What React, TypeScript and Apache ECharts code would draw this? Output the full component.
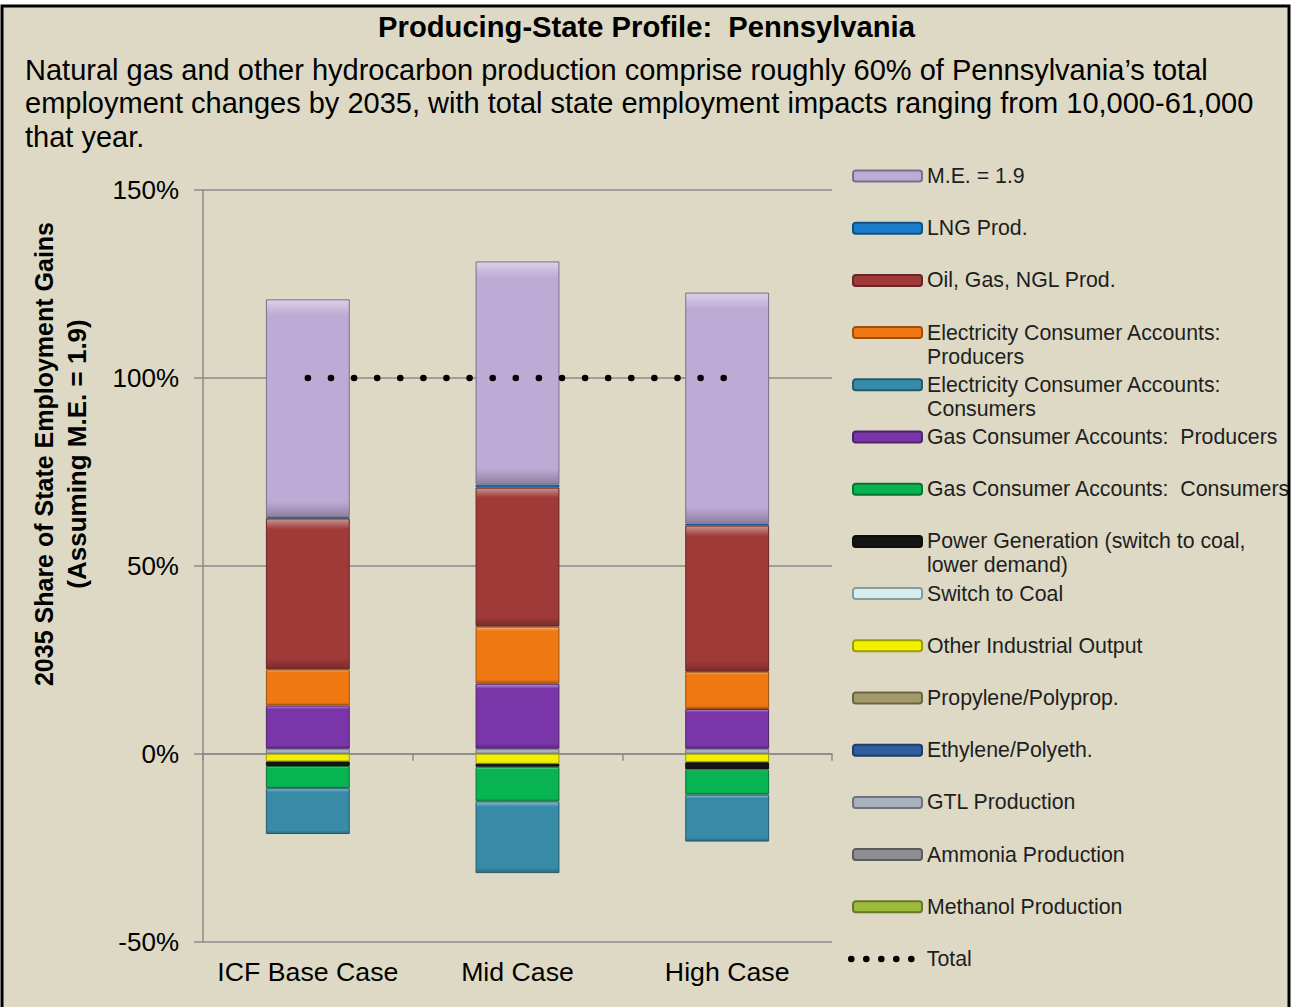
import React, { useEffect, useRef } from 'react';
import * as echarts from 'echarts';

// ---------- data ----------
const categories = ['ICF Base Case', 'Mid Case', 'High Case'];
const methanolProduction = [0, 0, 0];
const ammoniaProduction = [0, 0, 0];
const gtlProduction = [1.3, 1.3, 1.3];
const ethylenePolyeth = [0, 0, 0];
const propylenePolyprop = [0, 0, 0];
const otherIndustrialOutput = [-2.1, -2.7, -2.3];
const switchToCoal = [0, 0, 0];
const powerGeneration = [-1.2, -0.8, -1.9];
const gasAccountsConsumers = [-5.9, -9.2, -6.7];
const gasAccountsProducers = [11.5, 17.3, 10.6];
const elecAccountsConsumers = [-12.2, -19.1, -12.5];
const elecAccountsProducers = [9.6, 15.2, 9.9];
const oilGasNglProd = [40.2, 37.0, 38.9];
const lngProd = [0.3, 0.8, 0.5];
const multiplierEffect = [58.0, 59.4, 61.5];
const total = [100, 100, 100];

const yMin = -50;
const yMax = 150;
const yInterval = 50;

const titleText = 'Producing-State Profile:  Pennsylvania';
const subtitleLines = [
  'Natural gas and other hydrocarbon production comprise roughly 60% of Pennsylvania\u2019s total',
  'employment changes by 2035, with total state employment impacts ranging from 10,000-61,000',
  'that year.',
];
const yTitleLines = ['2035 Share of State Employment Gains', '(Assuming M.E. = 1.9)'];

// stacked series, bottom (first) to top (last)
const stackSeries = [
  { name: 'Methanol Production', label: 'Methanol Production', data: methanolProduction, color: '#9BBB3B' },
  { name: 'Ammonia Production', label: 'Ammonia Production', data: ammoniaProduction, color: '#8E8E92' },
  { name: 'GTL Production', label: 'GTL Production', data: gtlProduction, color: '#A9B1BC' },
  { name: 'Ethylene/Polyeth.', label: 'Ethylene/Polyeth.', data: ethylenePolyeth, color: '#2F5E9C' },
  { name: 'Propylene/Polyprop.', label: 'Propylene/Polyprop.', data: propylenePolyprop, color: '#A39A6A' },
  { name: 'Other Industrial Output', label: 'Other Industrial Output', data: otherIndustrialOutput, color: '#F2F000' },
  { name: 'Switch to Coal', label: 'Switch to Coal', data: switchToCoal, color: '#D5EEF0' },
  { name: 'Power Generation (switch to coal, lower demand)', label: 'Power Generation (switch to coal,\nlower demand)', data: powerGeneration, color: '#151515' },
  { name: 'Gas Consumer Accounts:  Consumers', label: 'Gas Consumer Accounts:  Consumers', data: gasAccountsConsumers, color: '#08B351' },
  { name: 'Gas Consumer Accounts:  Producers', label: 'Gas Consumer Accounts:  Producers', data: gasAccountsProducers, color: '#7A36A8' },
  { name: 'Electricity Consumer Accounts: Consumers', label: 'Electricity Consumer Accounts:\nConsumers', data: elecAccountsConsumers, color: '#388BA7' },
  { name: 'Electricity Consumer Accounts: Producers', label: 'Electricity Consumer Accounts:\nProducers', data: elecAccountsProducers, color: '#F07812' },
  { name: 'Oil, Gas, NGL Prod.', label: 'Oil, Gas, NGL Prod.', data: oilGasNglProd, color: '#9F3A39' },
  { name: 'LNG Prod.', label: 'LNG Prod.', data: lngProd, color: '#1B7CC9' },
  { name: 'M.E. = 1.9', label: 'M.E. = 1.9', data: multiplierEffect, color: '#BDABD5' },
];

const FONT = '"Liberation Sans", Arial, Helvetica, sans-serif';

function shade(hex: string, amt: number) {
  const n = parseInt(hex.slice(1), 16);
  let r = (n >> 16) & 255, g = (n >> 8) & 255, b = n & 255;
  if (amt >= 0) {
    r = Math.round(r + (255 - r) * amt);
    g = Math.round(g + (255 - g) * amt);
    b = Math.round(b + (255 - b) * amt);
  } else {
    r = Math.round(r * (1 + amt));
    g = Math.round(g * (1 + amt));
    b = Math.round(b * (1 + amt));
  }
  return `rgb(${r},${g},${b})`;
}

function bevel(c: string) {
  return new echarts.graphic.LinearGradient(0, 0, 0, 1, [
    { offset: 0, color: shade(c, 0.45) },
    { offset: 0.07, color: c },
    { offset: 0.93, color: c },
    { offset: 1, color: shade(c, -0.25) },
  ]);
}

const dotsPath =
  'path://' +
  [0, 15, 30, 45, 60]
    .map((x) => `M${x},3.3a3.3,3.3 0 1,0 6.6,0a3.3,3.3 0 1,0 -6.6,0Z`)
    .join('');

const LEGEND_FONT = 21.3;
const LEGEND_LH = 24;

export default function App() {
  const ref = useRef<HTMLDivElement>(null);
  useEffect(() => {
    const chart = echarts.init(ref.current!, null, { renderer: 'svg' });

    const barSeries = stackSeries.map((s) => ({
      name: s.name,
      type: 'bar',
      stack: 'total',
      barWidth: '40%',
      xAxisIndex: 0,
      data: s.data.map((v) => (v === 0 ? null : v)),
      itemStyle: {
        color: bevel(s.color),
        borderColor: shade(s.color, -0.35),
        borderWidth: 1,
      },
      emphasis: { disabled: true },
    }));

    const legendOrder = [...stackSeries].reverse();
    const legends: any[] = legendOrder.map((s, i) => {
      const c = 176 + i * 52.2;
      const twoLine = s.label.indexOf('\n') >= 0;
      // for two-line labels a blank leading line keeps the icon level with the first line
      const shown = twoLine ? '\u00a0\n' + s.label : s.label;
      return {
        show: true,
        orient: 'vertical',
        left: 852,
        top: twoLine ? c - LEGEND_LH * 1.5 : c - LEGEND_LH / 2,
        padding: 0,
        itemWidth: 69,
        itemHeight: 11,
        selectedMode: false,
        data: [{ name: s.name }],
        formatter: () => shown,
        textStyle: {
          fontFamily: FONT,
          fontSize: LEGEND_FONT,
          lineHeight: LEGEND_LH,
          color: '#1e1e1e',
        },
      };
    });
    legends.push({
      show: true,
      orient: 'vertical',
      left: 848,
      top: 176 + 15 * 52.2 - LEGEND_LH / 2,
      padding: 0,
      itemWidth: 67,
      itemHeight: 6.6,
      selectedMode: false,
      data: [{ name: 'Total', icon: dotsPath, itemStyle: { color: '#000' } }],
      textStyle: {
        fontFamily: FONT,
        fontSize: LEGEND_FONT,
        lineHeight: LEGEND_LH,
        color: '#1e1e1e',
        padding: [0, 0, 0, 7],
      },
    });

    const option: any = {
      animation: false,
      backgroundColor: '#ffffff',
      title: [
        {
          text: titleText,
          left: 'center',
          top: 10,
          padding: 0,
          textStyle: { fontFamily: FONT, fontSize: 29.2, fontWeight: 'bold', color: '#000', lineHeight: 34 },
        },
        {
          text: subtitleLines.join('\n'),
          left: 25,
          top: 53,
          padding: 0,
          textStyle: { fontFamily: FONT, fontSize: 29, fontWeight: 'normal', color: '#000', lineHeight: 33.5 },
        },
      ],
      legend: legends,
      grid: { left: 203, right: 1293 - 832, top: 190, bottom: 1007 - 941.5, containLabel: false },
      xAxis: [
        {
          type: 'category',
          data: categories,
          position: 'bottom',
          axisLine: { show: false, onZero: false },
          axisTick: { show: false },
          axisLabel: { fontFamily: FONT, fontSize: 26.7, color: '#000', margin: 17, interval: 0 },
          splitLine: { show: false },
        },
        {
          type: 'category',
          data: categories,
          position: 'bottom',
          axisLine: { show: true, onZero: true, lineStyle: { color: '#8a8a8a', width: 1.5 } },
          axisTick: { show: true, length: 7, interval: 0, lineStyle: { color: '#8a8a8a', width: 1.5 } },
          axisLabel: { show: false },
          splitLine: { show: false },
        },
      ],
      yAxis: {
        type: 'value',
        min: yMin,
        max: yMax,
        interval: yInterval,
        axisLine: { show: true, lineStyle: { color: '#8a8a8a', width: 1.5 } },
        axisTick: { show: true, length: 9, lineStyle: { color: '#8a8a8a', width: 1.5 } },
        axisLabel: {
          fontFamily: FONT,
          fontSize: 26,
          color: '#000',
          margin: 24,
          formatter: (v: number) => `${v}%`,
        },
        splitLine: { show: true, lineStyle: { color: '#8a8a8a', width: 1.5 } },
      },
      series: [
        ...barSeries,
        {
          name: 'Total',
          type: 'line',
          xAxisIndex: 0,
          data: total,
          symbol: 'none',
          z: 10,
          itemStyle: { color: '#000' },
          lineStyle: { color: '#000', width: 6.5, type: [0.1, 23], cap: 'round' },
          emphasis: { disabled: true },
        },
      ],
      graphic: [
        {
          type: 'rect',
          z: -100,
          silent: true,
          shape: { x: 2, y: 6, width: 1287, height: 1010 },
          style: { fill: '#DDD9C4' },
        },
        {
          type: 'text',
          x: 44,
          y: 454,
          rotation: Math.PI / 2,
          silent: true,
          style: {
            text: yTitleLines[0],
            fontFamily: FONT,
            fontSize: 25,
            fontWeight: 'bold',
            fill: '#000',
            textAlign: 'center',
            textVerticalAlign: 'middle',
          },
        },
        {
          type: 'text',
          x: 77,
          y: 454,
          rotation: Math.PI / 2,
          silent: true,
          style: {
            text: yTitleLines[1],
            fontFamily: FONT,
            fontSize: 26,
            fontWeight: 'bold',
            fill: '#000',
            textAlign: 'center',
            textVerticalAlign: 'middle',
          },
        },
        {
          type: 'rect',
          z: 100,
          silent: true,
          shape: { x: 2, y: 6, width: 1287, height: 1010 },
          style: { fill: 'transparent', stroke: '#000', lineWidth: 3 },
        },
      ],
    };

    chart.setOption(option);
    return () => chart.dispose();
  }, []);

  return (
    <div
      ref={ref}
      style={{ position: 'absolute', left: 0, top: 0, width: 1293, height: 1007 }}
    />
  );
}
